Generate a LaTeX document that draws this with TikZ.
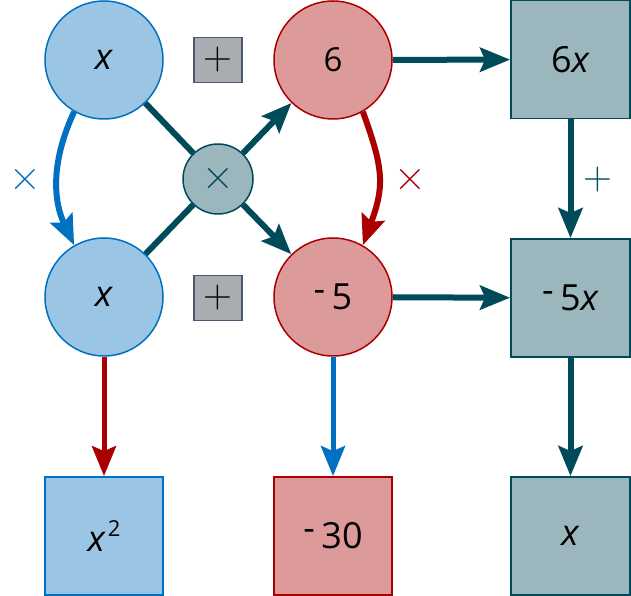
\documentclass[tikz,border=0pt]{standalone}
\usepackage{fontspec}
\setmainfont{Open Sans}
\newfontfamily\lmsym{Latin Modern Roman}
\usetikzlibrary{arrows.meta}
\definecolor{bfill}{HTML}{9BC5E4}
\definecolor{bline}{HTML}{0070C0}
\definecolor{rfill}{HTML}{DD9A9B}
\definecolor{rline}{HTML}{AA0000}
\definecolor{tfill}{HTML}{9BB7BD}
\definecolor{tline}{HTML}{004B5A}
\definecolor{gfill}{HTML}{A9ACB1}
\definecolor{gline}{HTML}{4C5870}
\newcommand\mneg{\raisebox{0.22em}{-}\hspace{0.18em}}
\newcommand\bigfs{\fontsize{36}{40}\selectfont}
\newcommand\plusfs{\lmsym\fontsize{40}{44}\selectfont}
\newcommand\timesfs{\lmsym\fontsize{44}{48}\selectfont}
\begin{document}
\begin{tikzpicture}[x=1pt,y=1pt,
  circ/.style={circle, draw, line width=1.5pt, minimum size=118pt, inner sep=0pt},
  bluec/.style={circ, fill=bfill, draw=bline},
  redc/.style={circ, fill=rfill, draw=rline},
  sq/.style={rectangle, draw, line width=1.8pt, minimum width=118pt, minimum height=118pt, inner sep=0pt},
  blues/.style={sq, fill=bfill, draw=bline},
  reds/.style={sq, fill=rfill, draw=rline},
  teals/.style={sq, fill=tfill, draw=tline, minimum width=119pt},
  plusbox/.style={rectangle, draw=gline, fill=gfill, line width=1.5pt, minimum width=48pt, minimum height=45pt, inner sep=0pt},
  lbl/.style={inner sep=0pt},
  tip/.style={-{Stealth[length=30pt,width=24pt,inset=5pt]}},
  conn/.style={line width=6pt, draw=#1, tip},
  conn/.default=tline
]
\useasboundingbox (0,0) rectangle (631,596);
% circles
\node[bluec] (tx) at (104,536) {\bigfs\textit{x}};
\node[bluec] (bx) at (104,299) {\bigfs\textit{x}};
\node[redc] (six) at (333,536) {\fontsize{33}{38}\selectfont 6};
\node[redc] (m5) at (333,299) {\bigfs\mneg 5};
\node[circle, draw=tline, fill=tfill, line width=1.5pt, minimum size=70pt, inner sep=0pt, text=tline] (cx) at (218,417) {\timesfs ×};
% plus boxes
\node[plusbox] (p1) at (218,536) {\plusfs +};
\node[plusbox] (p2) at (218,298) {\plusfs +};
% squares
\node[teals] (s6x) at (570.5,536.5) {\bigfs 6\textit{x}};
\node[teals] (s5x) at (570.5,298) {\bigfs\mneg 5\textit{x}};
\node[teals] (sx) at (570.5,60) {\bigfs\textit{x}};
\node[blues] (sx2) at (104,60) {\bigfs\textit{x}\kern2pt\raisebox{15pt}{\fontsize{22}{24}\selectfont 2}};
\node[reds] (s30) at (333,60) {\bigfs\mneg 30};
% labels
\node[lbl, text=bline] (lb) at (25,416) {\timesfs ×};
\node[lbl, text=rline] (lr) at (410,416) {\timesfs ×};
\node[lbl, text=tline] (lp) at (598,416) {\plusfs +};
% connectors
\draw[line width=6pt, tline] (tx) -- (cx);
\draw[line width=6pt, tline] (bx) -- (cx);
\draw[conn] (cx) -- (six);
\draw[conn] (cx) -- (m5);
\draw[conn] (six) -- (s6x);
\draw[conn] (m5) -- (s5x);
\draw[conn] (s6x) -- (s5x);
\draw[conn] (s5x) -- (sx);
\draw[conn=rline, line width=5pt] (bx) -- (sx2);
\draw[conn=bline, line width=5pt] (m5) -- (s30);
\draw[conn=bline] (tx.240) to[out=245,in=115] (bx.120);
\draw[conn=rline] (six.300) to[out=290,in=70, looseness=1.2] (m5.60);
\end{tikzpicture}
\end{document}
